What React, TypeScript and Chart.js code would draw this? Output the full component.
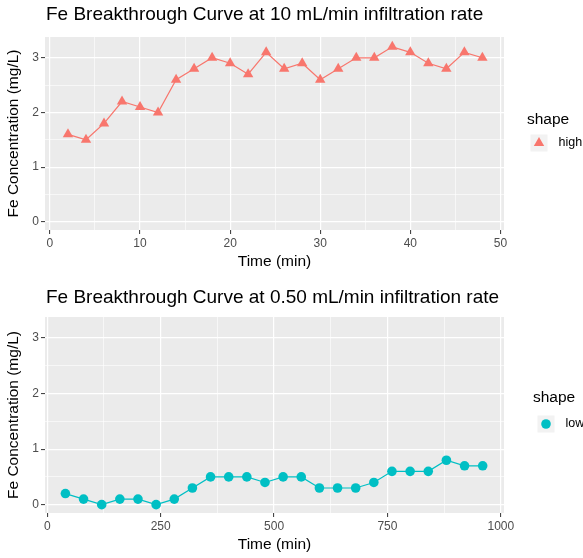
import React, { useEffect, useRef } from 'react';
import { Chart, registerables } from 'chart.js';

Chart.register(...registerables);

const topTitle = 'Fe Breakthrough Curve at 10 mL/min infiltration rate';
const bottomTitle = 'Fe Breakthrough Curve at 0.50 mL/min infiltration rate';
const yAxisTitle = 'Fe Concentration (mg/L)';
const xAxisTitle = 'Time (min)';
const legendTitle = 'shape';
const topSeriesName = 'high';
const bottomSeriesName = 'low';

const topTime = [2, 4, 6, 8, 10, 12, 14, 16, 18, 20, 22, 24, 26, 28, 30, 32, 34, 36, 38, 40, 42, 44, 46, 48];
const topConc = [1.6, 1.5, 1.8, 2.2, 2.1, 2.0, 2.6, 2.8, 3.0, 2.9, 2.7, 3.1, 2.8, 2.9, 2.6, 2.8, 3.0, 3.0, 3.2, 3.1, 2.9, 2.8, 3.1, 3.0];

const bottomTime = [40, 80, 120, 160, 200, 240, 280, 320, 360, 400, 440, 480, 520, 560, 600, 640, 680, 720, 760, 800, 840, 880, 920, 960];
const bottomConc = [0.2, 0.1, 0.0, 0.1, 0.1, 0.0, 0.1, 0.3, 0.5, 0.5, 0.5, 0.4, 0.5, 0.5, 0.3, 0.3, 0.3, 0.4, 0.6, 0.6, 0.6, 0.8, 0.7, 0.7];

const topXMajor = [0, 10, 20, 30, 40, 50];
const topXMinor = [5, 15, 25, 35, 45];
const bottomXMajor = [0, 250, 500, 750, 1000];
const bottomXMinor = [125, 375, 625, 875];
const yMajor = [0, 1, 2, 3];
const yMinor = [0.5, 1.5, 2.5];

const FONT = '"Liberation Sans", Arial, sans-serif';
const RED = '#F8766D';
const CYAN = '#00BFC4';

type PanelCfg = {
  title: string;
  label: string;
  times: number[];
  values: number[];
  xMajor: number[];
  xMinor: number[];
  xMin: number;
  xMax: number;
  color: string;
  pointStyle: string;
  pointRadius: number;
  padTop: number;
  xHeight: number;
  xTitlePadBottom: number;
  titleY: number;
  legendX: number;
  legendTitleY: number;
  keyCX: number;
  keyCY: number;
};

function drawMarker(ctx: CanvasRenderingContext2D, style: string, x: number, y: number, r: number, color: string) {
  ctx.save();
  ctx.fillStyle = color;
  ctx.beginPath();
  if (style === 'triangle') {
    let rad = 0;
    const step = (Math.PI * 2) / 3;
    ctx.moveTo(x + Math.sin(rad) * r, y - Math.cos(rad) * r);
    rad += step;
    ctx.lineTo(x + Math.sin(rad) * r, y - Math.cos(rad) * r);
    rad += step;
    ctx.lineTo(x + Math.sin(rad) * r, y - Math.cos(rad) * r);
    ctx.closePath();
  } else {
    ctx.arc(x, y, r, 0, Math.PI * 2);
  }
  ctx.fill();
  ctx.restore();
}

function makePlugin(cfg: PanelCfg) {
  return {
    id: 'ggDecor',
    beforeDraw(chart: any) {
      const { ctx, chartArea: a } = chart;
      ctx.save();
      ctx.fillStyle = '#EBEBEB';
      ctx.fillRect(a.left, a.top, a.right - a.left, a.bottom - a.top);
      ctx.restore();
    },
    afterDraw(chart: any) {
      const { ctx, chartArea: a } = chart;
      ctx.save();
      ctx.textAlign = 'left';
      ctx.textBaseline = 'middle';
      ctx.fillStyle = '#000000';
      ctx.font = `19px ${FONT}`;
      ctx.fillText(cfg.title, a.left + 1, cfg.titleY);
      ctx.font = `15.5px ${FONT}`;
      ctx.fillText(legendTitle, cfg.legendX, cfg.legendTitleY);
      ctx.fillStyle = '#F2F2F2';
      ctx.fillRect(cfg.keyCX - 8.5, cfg.keyCY - 8.5, 17, 17);
      drawMarker(ctx, cfg.pointStyle, cfg.keyCX, cfg.keyCY, cfg.pointRadius, cfg.color);
      ctx.fillStyle = '#000000';
      ctx.font = `12.5px ${FONT}`;
      ctx.fillText(cfg.label, cfg.keyCX + 8.5 + 11, cfg.keyCY);
      ctx.restore();
    },
  };
}

function buildConfig(cfg: PanelCfg): any {
  const isX = (v: number) => cfg.xMajor.includes(v);
  const isY = (v: number) => yMajor.includes(v);
  return {
    type: 'line',
    data: {
      datasets: [
        {
          label: cfg.label,
          data: cfg.times.map((t, i) => ({ x: t, y: cfg.values[i] })),
          borderColor: cfg.color,
          borderWidth: 1.2,
          backgroundColor: cfg.color,
          pointBackgroundColor: cfg.color,
          pointBorderColor: cfg.color,
          pointBorderWidth: 0,
          pointStyle: cfg.pointStyle,
          pointRadius: cfg.pointRadius,
          tension: 0,
          fill: false,
        },
      ],
    },
    options: {
      responsive: false,
      animation: false,
      events: [],
      layout: { padding: { top: cfg.padTop, right: 79, bottom: 0, left: 0 } },
      plugins: {
        legend: { display: false },
        title: { display: false },
        tooltip: { enabled: false },
      },
      scales: {
        x: {
          type: 'linear',
          min: cfg.xMin,
          max: cfg.xMax,
          afterBuildTicks: (s: any) => {
            s.ticks = [...cfg.xMajor, ...cfg.xMinor].sort((p, q) => p - q).map((v) => ({ value: v }));
          },
          afterFit: (s: any) => {
            s.height = cfg.xHeight;
          },
          ticks: {
            autoSkip: false,
            maxRotation: 0,
            padding: 2,
            color: '#4D4D4D',
            font: { family: FONT, size: 12 },
            callback: (v: number) => (isX(v) ? String(v) : ''),
          },
          grid: {
            color: '#FFFFFF',
            lineWidth: (c: any) => (c.tick && isX(c.tick.value) ? 1.2 : 0.6),
            drawTicks: true,
            tickLength: 4,
            tickWidth: 1,
            tickColor: (c: any) => (c.tick && isX(c.tick.value) ? '#333333' : 'rgba(0,0,0,0)'),
          },
          border: { display: false },
          title: {
            display: true,
            text: xAxisTitle,
            color: '#000000',
            font: { family: FONT, size: 15.5 },
            padding: { top: 0, bottom: cfg.xTitlePadBottom },
          },
        },
        y: {
          type: 'linear',
          min: -0.15,
          max: 3.38,
          afterBuildTicks: (s: any) => {
            s.ticks = [...yMajor, ...yMinor].sort((p, q) => p - q).map((v) => ({ value: v }));
          },
          afterFit: (s: any) => {
            s.width = 45;
          },
          ticks: {
            autoSkip: false,
            padding: 2,
            color: '#4D4D4D',
            font: { family: FONT, size: 12 },
            callback: (v: number) => (isY(v) ? String(v) : ''),
          },
          grid: {
            color: '#FFFFFF',
            lineWidth: (c: any) => (c.tick && isY(c.tick.value) ? 1.2 : 0.6),
            drawTicks: true,
            tickLength: 4,
            tickWidth: 1,
            tickColor: (c: any) => (c.tick && isY(c.tick.value) ? '#333333' : 'rgba(0,0,0,0)'),
          },
          border: { display: false },
          title: {
            display: true,
            text: yAxisTitle,
            color: '#000000',
            font: { family: FONT, size: 15.5 },
            padding: { top: 4.7, bottom: 0 },
          },
        },
      },
    },
    plugins: [makePlugin(cfg)],
  };
}

const topCfg: PanelCfg = {
  title: topTitle,
  label: topSeriesName,
  times: topTime,
  values: topConc,
  xMajor: topXMajor,
  xMinor: topXMinor,
  xMin: -0.55,
  xMax: 50.4,
  color: RED,
  pointStyle: 'triangle',
  pointRadius: 6,
  padTop: 37,
  xHeight: 49,
  xTitlePadBottom: 7.7,
  titleY: 15,
  legendX: 527,
  legendTitleY: 120,
  keyCX: 539,
  keyCY: 143,
};

const bottomCfg: PanelCfg = {
  title: bottomTitle,
  label: bottomSeriesName,
  times: bottomTime,
  values: bottomConc,
  xMajor: bottomXMajor,
  xMinor: bottomXMinor,
  xMin: -5,
  xMax: 1007,
  color: CYAN,
  pointStyle: 'circle',
  pointRadius: 4.8,
  padTop: 38,
  xHeight: 45,
  xTitlePadBottom: 3.7,
  titleY: 19,
  legendX: 533,
  legendTitleY: 119,
  keyCX: 546,
  keyCY: 145,
};

function Panel({ cfg }: { cfg: PanelCfg }) {
  const ref = useRef<HTMLCanvasElement | null>(null);
  useEffect(() => {
    if (!ref.current) return;
    const chart = new Chart(ref.current, buildConfig(cfg));
    return () => chart.destroy();
  }, [cfg]);
  return <canvas ref={ref} width={583} height={279} style={{ display: 'block', width: 583, height: 279 }} />;
}

export default function App() {
  return (
    <div style={{ position: 'absolute', left: 0, top: 0, width: 583, height: 558, background: '#FFFFFF' }}>
      <Panel cfg={topCfg} />
      <Panel cfg={bottomCfg} />
    </div>
  );
}
